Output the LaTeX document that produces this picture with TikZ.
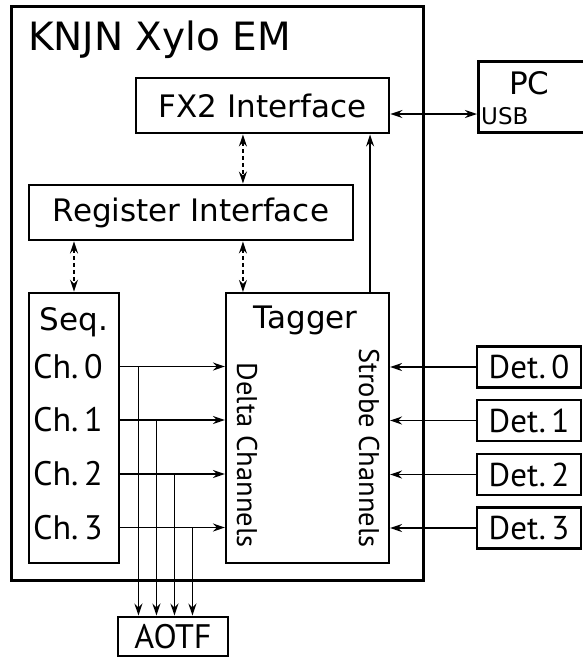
\documentclass[tikz,border=0pt]{standalone}
\usepackage{fontspec}
\setmainfont{DejaVu Sans}
\newfontfamily\chfont{PT Sans}
\usepackage{tikz}
\usetikzlibrary{positioning,arrows.meta,calc}

\begin{document}
\begin{tikzpicture}[
          x=1pt, y=-1pt,
          every node/.style={font=\fontsize{31}{31}\selectfont, inner sep=0pt},
          board/.style={draw, line width=3pt, minimum width=412pt, minimum height=574pt},
          blk/.style={draw, line width=2.9pt},
          tagbox/.style={draw, line width=2.1pt, minimum width=163pt, minimum height=270pt},
          detbox/.style={blk, minimum width=104pt, minimum height=41pt, font=\chfont\fontsize{33}{33}\selectfont},
          chlbl/.style={anchor=west, font=\chfont\fontsize{34}{34}\selectfont},
          vlbl/.style={rotate=-90, anchor=base, font=\chfont\fontsize{28.5}{28.5}\selectfont},
          sig/.style={line width=1.5pt, -{Stealth[length=12pt, width=8pt, inset=4pt]}},
          both/.style={line width=1.5pt, {Stealth[length=12pt, width=8pt, inset=4pt]}-{Stealth[length=12pt, width=8pt, inset=4pt]}},
          regbus/.style={both, dashed, dash pattern=on 4pt off 3pt}
      ]
        \useasboundingbox (0,0) rectangle (582,657);

        % board and its blocks
        \node[board] (board) at (217,293) {};
        \node[anchor=base west, font=\fontsize{39}{39}\selectfont] (title) at (28,50) {KNJN Xylo EM};
        \node[blk, minimum width=253pt, minimum height=55pt] (fx2) at (262.5,105.5) {FX2 Interface};
        \node[blk, minimum width=324pt, minimum height=55pt] (reg) at (191,212.5) {Register Interface};
        \node[blk, minimum width=90pt, minimum height=270pt] (seq) at (74,428) {};
        \node[anchor=base] (seqtitle) at (74,330) {Seq.};
        \node[chlbl] (ch0) at (33,366.5) {Ch.\,0};
        \node[chlbl] (ch1) at (33,420) {Ch.\,1};
        \node[chlbl] (ch2) at (33,474) {Ch.\,2};
        \node[chlbl] (ch3) at (33,527.5) {Ch.\,3};
        \node[tagbox] (tagger) at (307.5,428) {};
        \node[anchor=base] (taggertitle) at (305.5,328) {Tagger};
        \node[vlbl] (delta) at (237,455) {Delta Channels};
        \node[vlbl] (strobe) at (359,448) {Strobe Channels};

        % outside the board
        \node[blk, anchor=north west, minimum width=130pt, minimum height=71pt] (pc) at (477,60) {};
        \node[anchor=base west] (pctext) at (509,94) {PC};
        \node[anchor=base west, font=\fontsize{23}{23}\selectfont] (usb) at (481,124) {USB};
        \node[detbox] (det0) at (529,367) {Det.\,0};
        \node[detbox] (det1) at (529,420.5) {Det.\,1};
        \node[detbox] (det2) at (529,474.5) {Det.\,2};
        \node[detbox] (det3) at (529,528) {Det.\,3};
        \node[blk, minimum width=110pt, minimum height=39pt, font=\chfont\fontsize{34}{34}\selectfont] (aotf) at (173,636.5) {AOTF};

        % taps and ports
        \coordinate (usbport) at (477,114);
        \coordinate (bus) at ($(tagger.north west)+(18,0)$);
        \coordinate (tagout) at ($(tagger.north east)+(-20,0)$);
        \coordinate (tap0) at ($(seq.east |- ch0)+(18,0)$);
        \coordinate (tap1) at ($(seq.east |- ch1)+(36,0)$);
        \coordinate (tap2) at ($(seq.east |- ch2)+(54,0)$);
        \coordinate (tap3) at ($(seq.east |- ch3)+(72,0)$);

        % register bus
        \draw[regbus] (fx2.south -| bus) -- (reg.north -| bus);
        \draw[regbus] (reg.south -| seq.north) -- (seq.north);
        \draw[regbus] (reg.south -| bus) -- (bus);
        \draw[both] (fx2.east |- usbport) -- (usbport);
        \draw[sig] (tagout) -- (tagout |- fx2.south);

        % delta and strobe channels
        \draw[sig] (seq.east |- ch0) -- (tagger.west |- ch0);
        \draw[sig] (seq.east |- ch1) -- (tagger.west |- ch1);
        \draw[sig] (seq.east |- ch2) -- (tagger.west |- ch2);
        \draw[sig] (seq.east |- ch3) -- (tagger.west |- ch3);
        \draw[sig] (det0.west) -- (tagger.east |- det0.west);
        \draw[sig] (det1.west) -- (tagger.east |- det1.west);
        \draw[sig] (det2.west) -- (tagger.east |- det2.west);
        \draw[sig] (det3.west) -- (tagger.east |- det3.west);

        % copies to the AOTF
        \draw[sig] (tap0) -- (tap0 |- aotf.north);
        \draw[sig] (tap1) -- (tap1 |- aotf.north);
        \draw[sig] (tap2) -- (tap2 |- aotf.north);
        \draw[sig] (tap3) -- (tap3 |- aotf.north);
      \end{tikzpicture}
\end{document}
